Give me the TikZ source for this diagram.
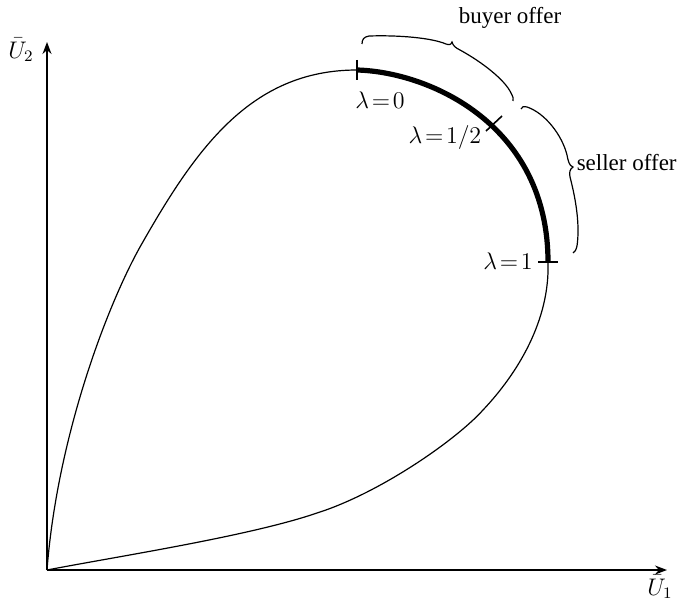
\documentclass[tikz,border=0pt]{standalone}
\usepackage{fontspec}
\setmainfont{Liberation Serif}
\usetikzlibrary{arrows.meta}
\tikzset{
  axis/.style={line width=0.8pt,-{Stealth[length=6pt,width=4.5pt]}},
  thincurve/.style={line width=0.6pt},
  thickcurve/.style={line width=2.6pt},
  tickmark/.style={line width=0.8pt},
  bracepath/.style={line width=0.6pt},
  lbl/.style={inner sep=0pt,font=\fontsize{11.5}{14}\selectfont}
}
\begin{document}
\begin{tikzpicture}[x=0.5pt,y=-0.5pt]
\useasboundingbox (0,0) rectangle (679,599);
% axes
\coordinate (O) at (47,570);
\coordinate (Ytop) at (47,42);
\coordinate (Xend) at (667,570);
\draw[axis] (O) -- (Ytop);
\draw[axis] (O) -- (Xend);
\node[lbl] (U2) at (21,50) {$\bar{U}_2$};
\node[lbl] (U1) at (660,587) {$\bar{U}_1$};
% curve
\coordinate (L0) at (357,70);
\coordinate (L1) at (548,262);
\coordinate (Lm) at (483,410);
\coordinate (Ln) at (317,513);
\coordinate (Lu) at (140,247);
\draw[thincurve] (O) .. controls (57,440) and (105,310) .. (Lu)
  .. controls (195,150) and (250,70) .. (L0);
\draw[thickcurve] (L0) .. controls (430,72) and (548,125) .. (L1);
\draw[thincurve] (L1) .. controls (550,320) and (518,373) .. (Lm)
  .. controls (456,440) and (380,493) .. (Ln)
  .. controls (250,536) and (120,556) .. (O);
% ticks
\draw[tickmark] (357,60) -- (357,80);
\draw[tickmark] (486,131) -- (502,116);
\draw[tickmark] (538,262) -- (558,262);
\node[lbl] (l0) at (380,100) {$\lambda\!=\!0$};
\node[lbl] (lh) at (445,137) {$\lambda\!=\!1/2$};
\node[lbl] (l1) at (508,261) {$\lambda\!=\!1$};
% buyer brace
\draw[bracepath] (362,44) .. controls (362,39) and (364,37) .. (369,36)
  .. controls (400,35) and (432,38) .. (446,44)
  .. controls (449,45) and (451,45) .. (452,42)
  .. controls (453,46) and (456,48) .. (460,50)
  .. controls (482,62) and (505,80) .. (511,93)
  .. controls (513,97) and (514,99) .. (513,101);
\node[lbl] (buyer) at (510,18) {buyer offer};
% seller brace
\draw[bracepath] (521,109) .. controls (522,107) and (523,106) .. (527,107)
  .. controls (545,113) and (562,135) .. (567,155)
  .. controls (568,160) and (569,166) .. (573,167)
  .. controls (570,169) and (569,172) .. (570,177)
  .. controls (576,200) and (580,225) .. (577,246)
  .. controls (576,250) and (575,252) .. (573,253);
\node[lbl,anchor=east] (seller) at (677,163) {seller offer};
\end{tikzpicture}
\end{document}
